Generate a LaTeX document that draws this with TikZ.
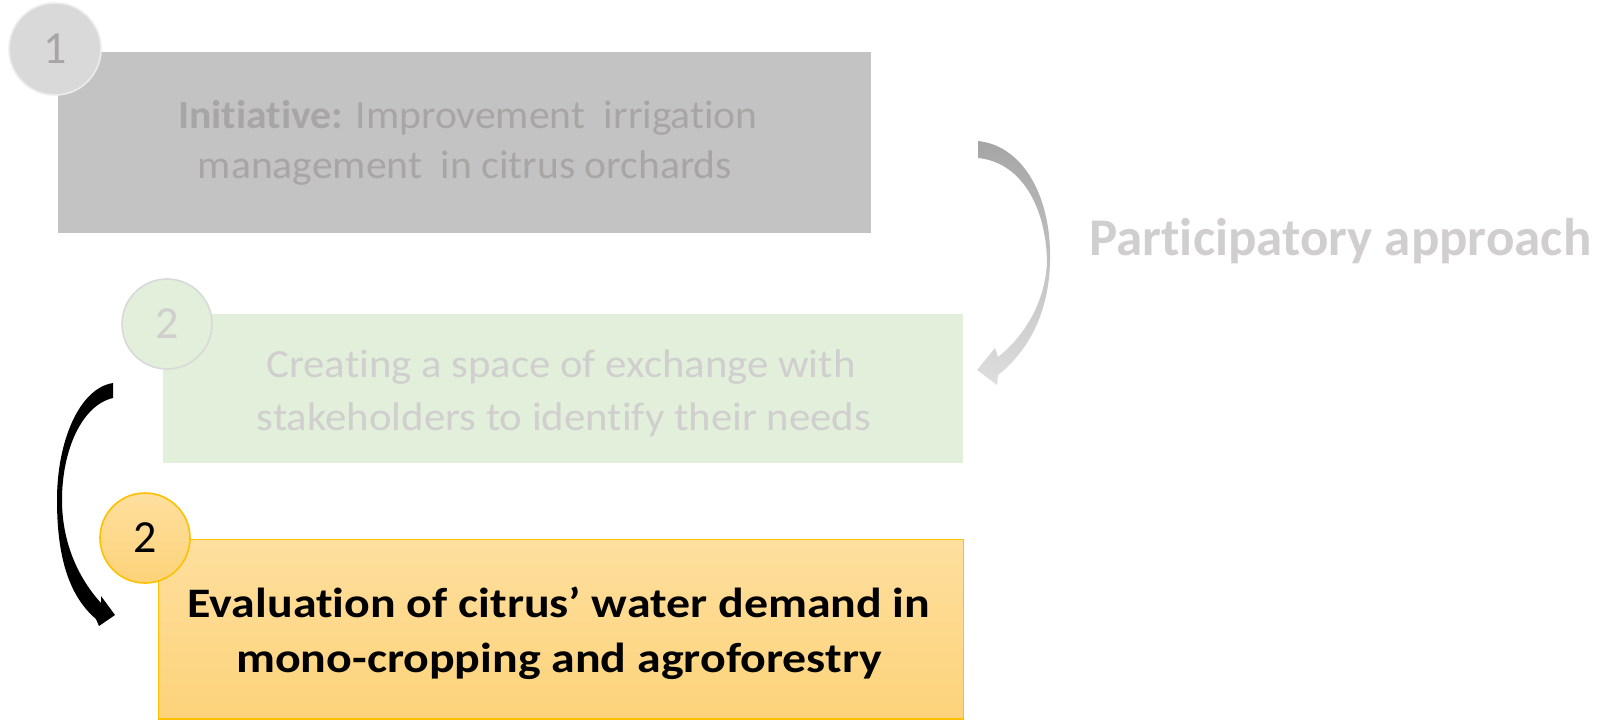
\documentclass[tikz,border=0pt]{standalone}
\usepackage{fontspec}
\setmainfont{Carlito}[Ligatures=NoCommon]
\newfontfamily\graytext{Carlito}[FakeStretch=1.04, Ligatures=NoCommon]
\newfontfamily\greentext{Carlito}[FakeStretch=1.07, Ligatures=NoCommon]
\newfontfamily\ambertext{Carlito}[FakeStretch=1.14, Ligatures=NoCommon]
\usepackage{xcolor}

\definecolor{boxgray}{RGB}{195,195,195}
\definecolor{txtgray}{RGB}{168,165,165}
\definecolor{ringgray}{RGB}{217,217,217}
\definecolor{ringline}{RGB}{236,236,236}
\definecolor{boxgreen}{RGB}{226,239,218}
\definecolor{fadegray}{RGB}{208,206,206}
\definecolor{ambertop}{RGB}{254,223,158}
\definecolor{amberbot}{RGB}{253,211,122}
\definecolor{amberline}{RGB}{255,192,0}
\definecolor{arrowtop}{RGB}{165,165,165}
\definecolor{arrowbot}{RGB}{222,222,222}

\tikzset{
  stepbox/.style={rectangle, inner sep=0pt, anchor=north west},
  stepnum/.style={circle, inner sep=0pt, minimum size=45pt, line width=0.8pt, font=\fontsize{23}{23}\selectfont},
  steptxt/.style={anchor=base, inner sep=0pt},
}

\begin{document}
\begin{tikzpicture}[x=0.5pt,y=0.5pt,yscale=-1,xscale=1]
\useasboundingbox (0,0) rectangle (1604,719);

%Shape: Rectangle [step 1]
\node[stepbox, fill=boxgray, minimum width=406.75pt, minimum height=90.5pt] (box1) at (57.5,52) {};
%Shape: Circle [step 1]
\node[stepnum, fill=ringgray, draw=ringline, minimum size=46pt, text=txtgray] (num1) at (55,49) {1};
% Text Node
\node[steptxt, text=txtgray, font=\graytext\fontsize{20}{24}\selectfont] (init1) at (468,128) {\textbf{Initiative:} Improvement\ \ irrigation};
% Text Node
\node[steptxt, text=txtgray, font=\graytext\fontsize{20}{24}\selectfont] (init2) at (465,178) {management\ \ in citrus orchards};

%Shape: Rectangle [step 2]
\node[stepbox, fill=boxgreen, minimum width=400pt, minimum height=74.5pt] (box2) at (162.7,314) {};
%Shape: Circle [step 2]
\node[stepnum, fill=boxgreen, draw=ringgray, text=fadegray] (num2) at (167,324) {2};
% Text Node
\node[steptxt, text=fadegray, font=\greentext\fontsize{20}{24}\selectfont] (space1) at (561,377) {Creating a space of exchange with};
% Text Node
\node[steptxt, text=fadegray, font=\greentext\fontsize{20}{24}\selectfont] (space2) at (564,430) {stakeholders to identify their needs};

%Shape: Rectangle [step 3]
\node[stepbox, top color=ambertop, bottom color=amberbot, draw=amberline, line width=0.8pt, minimum width=402.5pt, minimum height=89.75pt] (box3) at (157.5,538.5) {};
%Shape: Circle [step 3]
\node[stepnum, top color=ambertop, bottom color=amberbot, draw=amberline] (num3) at (145,538) {2};
% Text Node
\node[steptxt, font=\ambertext\fontsize{21}{24}\selectfont\bfseries] (eval1) at (559,617) {Evaluation of citrus’ water demand in};
% Text Node
\node[steptxt, font=\ambertext\fontsize{21}{24}\selectfont\bfseries] (eval2) at (559,672) {mono-cropping and agroforestry};

% Text Node
\node[anchor=base west, inner sep=0pt, text=fadegray, font=\fontsize{26.5}{26.5}\selectfont\bfseries] (partic) at (1089,255) {Participatory approach};

%Curve Lines [gray curved arrow]
\shade[top color=arrowtop, bottom color=arrowbot] (978,141) .. controls (1025,146) and (1052,200) .. (1050,262) .. controls (1049,310) and (1030,350) .. (998,375) -- (997,385) -- (977,370) -- (995,348) -- (998,357) .. controls (1022,338) and (1045,305) .. (1047,262) .. controls (1046,205) and (1020,162) .. (978,158) -- cycle;

%Curve Lines [black curved arrow]
\fill[black] (113,383) .. controls (80,388) and (57,440) .. (57,500) .. controls (57,555) and (68,595) .. (96,619) -- (99,626) -- (115,615) -- (101,596) -- (101,603) .. controls (80,580) and (62,545) .. (62,500) .. controls (62,450) and (82,405) .. (113,398) -- cycle;

\end{tikzpicture}
\end{document}
